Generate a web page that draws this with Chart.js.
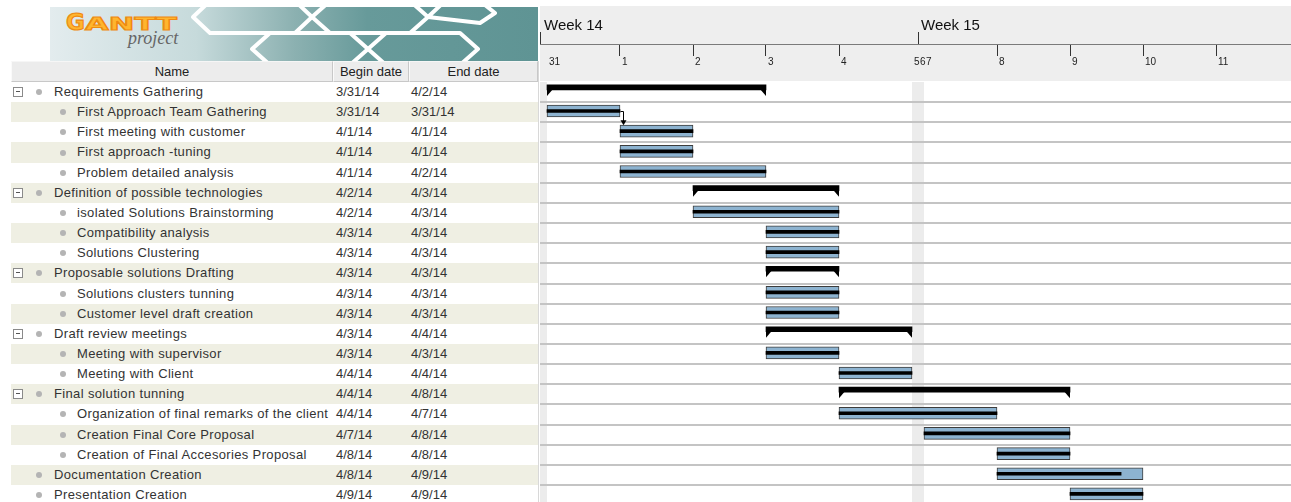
<!DOCTYPE html>
<html>
<head>
<meta charset="utf-8">
<title>GanttProject</title>
<script src="https://cdn.jsdelivr.net/npm/chart.js@4.4.1/dist/chart.umd.min.js"></script>
<style>
    body { margin: 0; width: 1291px; height: 502px; overflow: hidden; background: #fff; position: relative;
           font-family: "Liberation Sans", Arial, sans-serif; font-size: 13px; color: #333; }
    #logo { position: absolute; left: 50px; top: 7px; }
    .hdr { position: absolute; top: 61px; height: 19px; line-height: 19px; text-align: center; color: #222;
           background: #ececec; border: 1px solid #c8c8c8; border-top-color: #f6f6f6; border-left-color: #fafafa; }
    .row { position: absolute; left: 11px; width: 527px; }
    .row.alt { background: #efefe3; }
    .row span { position: absolute; top: 0; white-space: nowrap; }
    .row span.name { letter-spacing: 0.35px; }
    .exp { position: absolute; left: 2px; width: 8px; height: 8px; border: 1px solid #8a8a8a; background: #fff; }
    .exp:after { content: ""; position: absolute; left: 2px; top: 3px; width: 4px; height: 1px; background: #555; }
    .dot { position: absolute; width: 6px; height: 6px; border-radius: 50%; background: #b4b4b4; }
    #sep { position: absolute; left: 538px; top: 61px; width: 1px; height: 441px; background: #d8d8d8; }
    #timeHead { position: absolute; left: 540px; top: 6px; width: 751px; height: 75px; background: #eeeeee; }
    #ganttChart { position: absolute; left: 540px; top: 0; }
</style>
</head>
<body>

<!-- Banner -->
<svg id="logo" width="488" height="54" viewBox="0 0 488 54">
    <defs>
        <linearGradient id="bannerBg" x1="0" x2="1" y1="0" y2="0">
            <stop offset="0" stop-color="#e3ecee"/>
            <stop offset="0.3" stop-color="#c6dadb"/>
            <stop offset="0.5" stop-color="#8cb1b1"/>
            <stop offset="0.65" stop-color="#679a9a"/>
            <stop offset="1" stop-color="#5f9494"/>
        </linearGradient>
    </defs>
    <rect width="488" height="54" fill="url(#bannerBg)"/>
    <g fill="none" stroke="#ffffff" stroke-width="4" stroke-linejoin="round">
        <polygon points="160,-6 245,-6 262,10 245,26 160,26 143,10"/>
        <polygon points="280,-6 360,-6 378,10 360,26 280,26 262,10"/>
        <polygon points="395,-6 430,-6 445,6 430,16 378,10"/>
        <polygon points="220,26 300,26 318,42 300,58 220,58 202,42"/>
        <polygon points="336,26 410,26 428,42 410,58 336,58 318,42"/>
    </g>
    <text x="16" y="23" font-family="DejaVu Sans, sans-serif" font-weight="bold" font-size="23" fill="#ffb52e" stroke="#ee8a12" stroke-width="1.2">G</text>
    <text x="35" y="23" textLength="92" lengthAdjust="spacingAndGlyphs" font-family="DejaVu Sans, sans-serif" font-weight="bold" font-size="17" fill="#ffb52e" stroke="#ee8a12" stroke-width="1">ANTT</text>
    <text x="78" y="37" font-family="Liberation Serif, serif" font-style="italic" font-size="18" fill="#666">project</text>
</svg>

<!-- Column headers -->
<div class="hdr" style="left:11px; width:320px;">Name</div>
<div class="hdr" style="left:333px; width:74px;">Begin date</div>
<div class="hdr" style="left:409px; width:127px;">End date</div>
<div id="rows"></div>
<div id="sep"></div>

<div id="timeHead"></div>
<canvas id="ganttChart" width="751" height="520"></canvas>

<script>
// Task table
const taskNames = [
    'Requirements Gathering', 'First Approach Team Gathering', 'First meeting with customer',
    'First approach -tuning', 'Problem detailed analysis', 'Definition of possible technologies',
    'isolated Solutions Brainstorming', 'Compatibility analysis', 'Solutions Clustering',
    'Proposable solutions Drafting', 'Solutions clusters tunning', 'Customer level draft creation',
    'Draft review meetings', 'Meeting with supervisor', 'Meeting with Client',
    'Final solution tunning', 'Organization of final remarks of the client', 'Creation Final Core Proposal',
    'Creation of Final Accesories Proposal', 'Documentation Creation', 'Presentation Creation'
];
const beginDates = [
    '3/31/14', '3/31/14', '4/1/14', '4/1/14', '4/1/14', '4/2/14', '4/2/14', '4/3/14', '4/3/14', '4/3/14',
    '4/3/14', '4/3/14', '4/3/14', '4/3/14', '4/4/14', '4/4/14', '4/4/14', '4/7/14', '4/8/14', '4/8/14', '4/9/14'
];
const endDates = [
    '4/2/14', '3/31/14', '4/1/14', '4/1/14', '4/2/14', '4/3/14', '4/3/14', '4/3/14', '4/3/14', '4/3/14',
    '4/3/14', '4/3/14', '4/4/14', '4/3/14', '4/4/14', '4/8/14', '4/7/14', '4/8/14', '4/8/14', '4/9/14', '4/9/14'
];
const taskLevels = [0, 1, 1, 1, 1, 0, 1, 1, 1, 0, 1, 1, 0, 1, 1, 0, 1, 1, 1, 0, 0];
const summaryRows = [0, 5, 9, 12, 15];
const taskProgress = [100, 100, 100, 100, 100, 100, 100, 100, 100, 100, 100,
                      100, 100, 100, 100, 100, 100, 100, 100, 85, 100];
const dependencies = [[1, 2]];   // [from row, to row]

// Timeline header
const dayDates = ['3/31/14', '4/1/14', '4/2/14', '4/3/14', '4/4/14', '4/5/14', '4/6/14',
                  '4/7/14', '4/8/14', '4/9/14', '4/10/14', '4/11/14'];
const dayLabels = ['31', '1', '2', '3', '4', '5', '6', '7', '8', '9', '10', '11'];
const dayTickDates = ['4/1/14', '4/2/14', '4/3/14', '4/4/14', '4/8/14', '4/9/14', '4/10/14', '4/11/14'];
const weekDates = ['3/30/14', '4/6/14'];
const weekLabels = ['Week 14', 'Week 15'];
const weekendStarts = ['3/29/14', '4/5/14'];

// Layout constants
const ROW_TOP = 82, ROW_H = 20.15;
const DAY_PX = 73, LEFT_PX = 7, CANVAS_W = 751, CANVAS_H = 520;
const WEEKEND = 12 / DAY_PX;   // a whole weekend is squeezed into 12px
const START = new Date(2014, 2, 31);

function parseDate(str) {
    const [m, d, y] = str.split('/').map(Number);
    return new Date(2000 + y, m - 1, d);
}

function isWeekend(dt) {
    return dt.getDay() === 0 || dt.getDay() === 6;
}

// Date -> position on the x scale (working days = 1, weekend days = half of WEEKEND)
function dayPos(str) {
    const target = parseDate(str);
    const cur = new Date(START);
    let p = 0;
    while (cur < target) {
        p += isWeekend(cur) ? WEEKEND / 2 : 1;
        cur.setDate(cur.getDate() + 1);
    }
    while (cur > target) {
        cur.setDate(cur.getDate() - 1);
        p -= isWeekend(cur) ? WEEKEND / 2 : 1;
    }
    return p;
}

// Build the left table
const rowsBox = document.getElementById('rows');
taskNames.forEach((name, i) => {
    const row = document.createElement('div');
    row.className = 'row' + (i % 2 ? ' alt' : '');
    row.style.top = (ROW_TOP + i * ROW_H) + 'px';
    row.style.height = ROW_H + 'px';
    row.style.lineHeight = ROW_H + 'px';
    const mid = ROW_H / 2;
    let html = '';
    if (summaryRows.includes(i)) {
        html += `<div class="exp" style="top:${mid - 5}px"></div>`;
    }
    const dotX = taskLevels[i] ? 49 : 25;
    html += `<div class="dot" style="left:${dotX}px; top:${mid - 3}px"></div>`;
    html += `<span class="name" style="left:${taskLevels[i] ? 66 : 43}px">${name}</span>`;
    html += `<span style="left:325px">${beginDates[i]}</span>`;
    html += `<span style="left:400px">${endDates[i]}</span>`;
    row.innerHTML = html;
    rowsBox.appendChild(row);
});

// Bars
const summaryData = [], taskData = [], progressData = [];
taskNames.forEach((name, i) => {
    const s = dayPos(beginDates[i]);
    const e = dayPos(endDates[i]) + 1;
    if (summaryRows.includes(i)) {
        summaryData.push({ x: [s, e], y: i - 0.23, row: i });
    } else {
        taskData.push({ x: [s, e], y: i - 0.06, row: i });
        progressData.push({ x: [s, s + (e - s) * taskProgress[i] / 100], y: i - 0.06, row: i });
    }
});

// Weekend shading, summary bracket tips and dependency arrows
const ganttDecor = {
    id: 'ganttDecor',
    beforeDraw(chart) {
        const { ctx, chartArea, scales } = chart;
        ctx.save();
        ctx.fillStyle = '#ececec';
        weekendStarts.forEach(d => {
            const x1 = Math.max(scales.x.getPixelForValue(dayPos(d)), chartArea.left);
            const x2 = scales.x.getPixelForValue(dayPos(d) + WEEKEND);
            ctx.fillRect(x1, chartArea.top, x2 - x1, chartArea.bottom - chartArea.top);
        });
        ctx.restore();
    },
    afterDatasetsDraw(chart) {
        const ctx = chart.ctx;
        ctx.save();
        ctx.fillStyle = '#000';
        chart.getDatasetMeta(2).data.forEach(bar => {
            const left = Math.min(bar.x, bar.base), right = Math.max(bar.x, bar.base);
            const bottom = bar.y + bar.height / 2;
            ctx.beginPath();
            ctx.moveTo(left, bottom - 1);
            ctx.lineTo(left + 6, bottom - 1);
            ctx.lineTo(left, bottom + 6);
            ctx.closePath();
            ctx.fill();
            ctx.beginPath();
            ctx.moveTo(right, bottom - 1);
            ctx.lineTo(right - 6, bottom - 1);
            ctx.lineTo(right, bottom + 6);
            ctx.closePath();
            ctx.fill();
        });

        const taskMeta = chart.getDatasetMeta(1);
        ctx.strokeStyle = '#000';
        ctx.lineWidth = 1;
        dependencies.forEach(([from, to]) => {
            const a = taskMeta.data[taskData.findIndex(t => t.row === from)];
            const b = taskMeta.data[taskData.findIndex(t => t.row === to)];
            const ax = Math.round(a.x) + 0.5, ay = Math.round(a.y) + 0.5;
            const bx = ax + 3, by = b.y - b.height / 2;
            ctx.beginPath();
            ctx.moveTo(ax, ay);
            ctx.lineTo(bx, ay);
            ctx.lineTo(bx, by - 4);
            ctx.stroke();
            ctx.beginPath();
            ctx.moveTo(bx - 3, by - 5);
            ctx.lineTo(bx + 3, by - 5);
            ctx.lineTo(bx, by);
            ctx.closePath();
            ctx.fill();
        });
        ctx.restore();
    }
};

Chart.defaults.font.family = '"Liberation Sans", Arial, sans-serif';

const xMin = -LEFT_PX / DAY_PX;
const xMax = (CANVAS_W - LEFT_PX) / DAY_PX;

// top axes: fixed heights, no extra side padding from labels
function fixAxis(height) {
    return s => {
        s.height = height;
        s.paddingLeft = 0;
        s.paddingRight = 0;
    };
}

new Chart(document.getElementById('ganttChart'), {
    type: 'bar',
    data: {
        datasets: [
            { label: 'Progress', data: progressData, backgroundColor: '#000', barThickness: 3,
              grouped: false, order: 0 },
            { label: 'Tasks', data: taskData, backgroundColor: '#8db3d0', borderColor: '#3c3c3c',
              borderWidth: 1, borderSkipped: false, barThickness: 12, grouped: false, order: 1 },
            { label: 'Summary', data: summaryData, backgroundColor: '#000', barThickness: 5,
              grouped: false, order: 2 }
        ]
    },
    options: {
        indexAxis: 'y',
        responsive: false,
        animation: false,
        devicePixelRatio: 1,
        layout: { padding: { top: 6, left: 0, right: 0, bottom: CANVAS_H - (ROW_TOP + taskNames.length * ROW_H) } },
        plugins: { legend: { display: false }, tooltip: { enabled: false } },
        scales: {
            // day numbers
            x: {
                type: 'linear', position: 'top', min: xMin, max: xMax, weight: 0, offset: false,
                afterFit: fixAxis(26),
                afterBuildTicks(s) { s.ticks = dayDates.map(d => ({ value: dayPos(d) })); },
                grid: { display: false, drawTicks: false },
                border: { display: false },
                ticks: {
                    align: 'start', labelOffset: 2, padding: 14, autoSkip: false,
                    maxRotation: 0, minRotation: 0, color: '#222', font: { size: 10 },
                    callback: (v, i) => dayLabels[i]
                }
            },
            // short day tick marks hanging below the week line
            xDayTicks: {
                type: 'linear', position: 'top', min: xMin, max: xMax, weight: 1, offset: false,
                afterFit: fixAxis(12),
                afterBuildTicks(s) { s.ticks = dayTickDates.map(d => ({ value: dayPos(d) })); },
                grid: { drawOnChartArea: false, drawTicks: true, tickLength: 12, color: '#333' },
                border: { display: false },
                ticks: { display: false }
            },
            // weeks
            xWeeks: {
                type: 'linear', position: 'top', min: xMin, max: xMax, weight: 2, offset: false,
                afterFit: fixAxis(38),
                afterBuildTicks(s) { s.ticks = weekDates.map(d => ({ value: dayPos(d) })); },
                grid: { drawOnChartArea: false, drawTicks: true, tickLength: 12, color: '#333' },
                border: { display: true, color: '#7a7a7a' },
                ticks: {
                    align: 'start', labelOffset: 3, padding: -3, autoSkip: false,
                    maxRotation: 0, minRotation: 0, color: '#111', font: { size: 15 },
                    callback: (v, i) => weekLabels[i]
                }
            },
            y: {
                type: 'linear', reverse: true, min: -0.5, max: taskNames.length - 0.5, offset: false,
                afterFit(s) { s.width = 0; s.paddingTop = 0; s.paddingBottom = 0; },
                afterBuildTicks(s) { s.ticks = taskNames.map((n, i) => ({ value: i + 0.5 })); },
                ticks: { display: false },
                border: { display: false },
                grid: { color: '#c4c4c4', lineWidth: 2, drawTicks: false, offset: false }
            }
        }
    },
    plugins: [ganttDecor]
});
</script>
</body>
</html>
